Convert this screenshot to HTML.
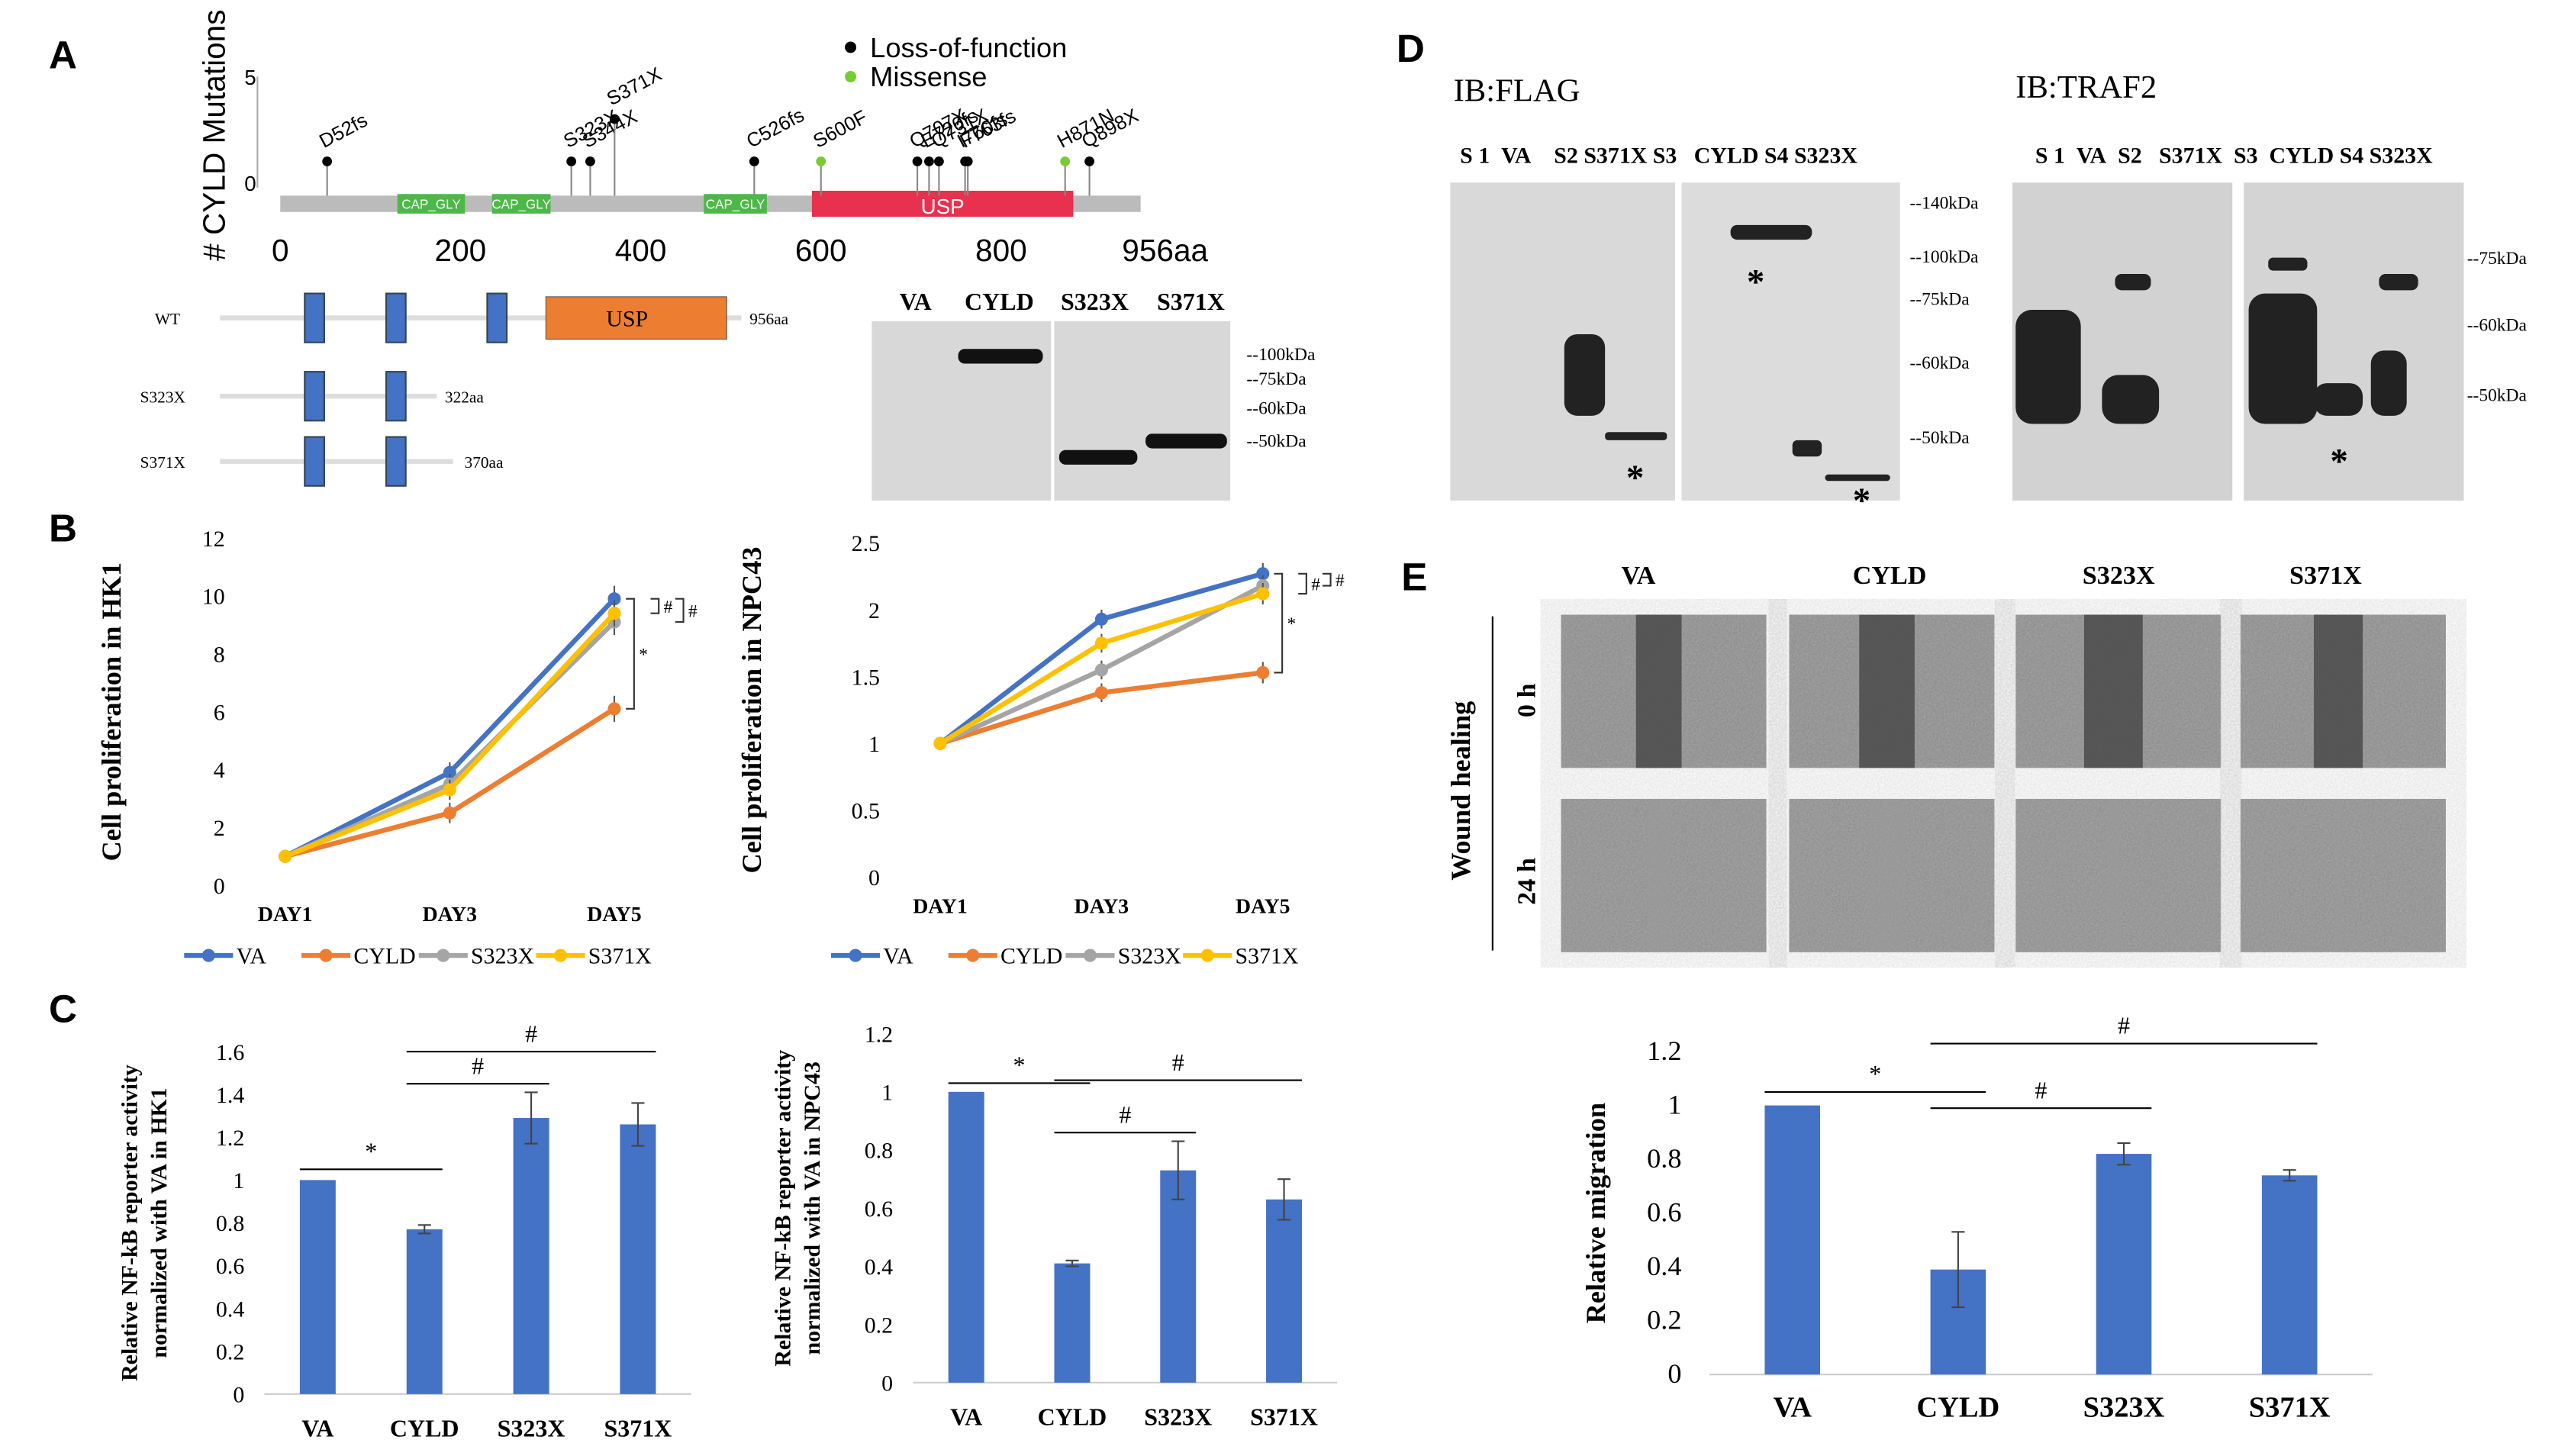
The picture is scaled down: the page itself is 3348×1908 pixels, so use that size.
<!DOCTYPE html>
<html><head><meta charset="utf-8"><style>
html,body{margin:0;padding:0;background:#fff;}
svg{display:block;}
text{font-family:"Liberation Serif",serif;}
.s{font-family:"Liberation Sans",sans-serif;}
</style></head><body>
<svg id="fig" width="3348" height="1908" viewBox="0 0 1568 893" preserveAspectRatio="none" xmlns="http://www.w3.org/2000/svg">
<defs>
<filter id="noise"><feTurbulence type="fractalNoise" baseFrequency="0.9" numOctaves="2"/><feColorMatrix values="0 0 0 0 0.55 0 0 0 0 0.55 0 0 0 0 0.55 0 0 0 0.5 0"/></filter>
</defs>
<g class="s" font-weight="bold" font-size="24">
<text x="30" y="42" class="s">A</text><text x="30" y="332" class="s">B</text><text x="30" y="627" class="s">C</text>
<text x="857" y="38" class="s">D</text><text x="860" y="362" class="s">E</text></g>

<!-- Panel A lollipop -->
<g class="s">
<text class="s" transform="translate(138,160) rotate(-90)" font-size="19">#&#160;CYLD Mutations</text>
<line x1="158" y1="47" x2="158" y2="115" stroke="#aaa"/>
<text class="s" x="150" y="52" font-size="13">5</text><text class="s" x="150" y="117" font-size="13">0</text>
<rect x="172" y="120" width="528" height="10" fill="#bbb"/>
<g id="domains"></g>
<g id="lolli"></g>
<g id="aticks" font-size="19"></g>
<circle cx="522" cy="29" r="3.5" fill="#000"/><text class="s" x="534" y="35" font-size="17">Loss-of-function</text>
<circle cx="522" cy="47" r="3.5" fill="#7c3"/><text class="s" x="534" y="53" font-size="17">Missense</text>
</g>

<!-- schematic -->
<g font-size="10">
<line x1="135" y1="195" x2="335" y2="195" stroke="#ddd" stroke-width="3"/><line x1="446" y1="195" x2="455" y2="195" stroke="#ddd" stroke-width="3"/>
<text x="95" y="199">WT</text><text x="460" y="199">956aa</text>
<rect x="335" y="182" width="111" height="26" fill="#ed7d31" stroke="#555" stroke-width="0.5"/><text x="372" y="200" font-size="14">USP</text>
<line x1="135" y1="243" x2="268" y2="243" stroke="#ddd" stroke-width="3"/><text x="86" y="247">S323X</text><text x="273" y="247">322aa</text>
<line x1="135" y1="283" x2="278" y2="283" stroke="#ddd" stroke-width="3"/><text x="86" y="287">S371X</text><text x="285" y="287">370aa</text>
<g fill="#4472c4" stroke="#345">
<rect x="187" y="180" width="12" height="30"/><rect x="237" y="180" width="12" height="30"/><rect x="299" y="180" width="12" height="30"/>
<rect x="187" y="228" width="12" height="30"/><rect x="237" y="228" width="12" height="30"/>
<rect x="187" y="268" width="12" height="30"/><rect x="237" y="268" width="12" height="30"/></g>
</g>

<!-- western blot A -->
<g font-size="15" font-weight="bold">
<text x="552" y="190">VA</text><text x="592" y="190">CYLD</text><text x="651" y="190">S323X</text><text x="710" y="190">S371X</text>
<rect x="535" y="197" width="110" height="110" fill="#d8d8d8"/><rect x="647" y="197" width="108" height="110" fill="#d8d8d8"/>
<rect x="588" y="214" width="52" height="9" rx="4" fill="#111"/>
<rect x="650" y="276" width="48" height="9" rx="4" fill="#111"/><rect x="703" y="266" width="50" height="9" rx="4" fill="#111"/>
<g font-weight="normal" font-size="11"><text x="765" y="221">--100kDa</text><text x="765" y="236">--75kDa</text><text x="765" y="254">--60kDa</text><text x="765" y="274">--50kDa</text></g>
</g>

<!-- Panel D -->
<g>
<text x="892" y="62" font-size="20">IB:FLAG</text><text x="1237" y="60" font-size="20">IB:TRAF2</text>
<g font-size="14" font-weight="bold"><text x="896" y="100">S 1&#160;&#160;VA&#160;&#160;&#160;&#160;S2&#160;S371X&#160;S3&#160;&#160;&#160;CYLD&#160;S4&#160;S323X</text>
<text x="1249" y="100">S 1&#160;&#160;VA&#160;&#160;S2&#160;&#160;&#160;S371X&#160;&#160;S3&#160;&#160;CYLD&#160;S4&#160;S323X</text></g>
<rect x="890" y="112" width="138" height="195" fill="#d9d9d9"/><rect x="1032" y="112" width="134" height="195" fill="#dcdcdc"/>
<rect x="1235" y="112" width="135" height="195" fill="#d2d2d2"/><rect x="1377" y="112" width="135" height="195" fill="#d4d4d4"/>
<g fill="#222"><rect x="960" y="205" width="25" height="50" rx="8"/><rect x="985" y="265" width="38" height="5" rx="2"/>
<rect x="1062" y="138" width="50" height="9" rx="4"/><rect x="1100" y="270" width="18" height="10" rx="3"/><rect x="1120" y="291" width="40" height="4" rx="2"/>
<rect x="1237" y="190" width="40" height="70" rx="10"/><rect x="1290" y="230" width="35" height="30" rx="10"/><rect x="1298" y="168" width="22" height="10" rx="4"/>
<rect x="1380" y="180" width="42" height="80" rx="10"/><rect x="1420" y="235" width="30" height="20" rx="8"/><rect x="1455" y="215" width="22" height="40" rx="8"/><rect x="1460" y="168" width="24" height="10" rx="4"/><rect x="1392" y="158" width="24" height="8" rx="3"/></g>
<g font-size="22" font-weight="bold"><text x="998" y="300">*</text><text x="1072" y="180">*</text><text x="1137" y="314">*</text><text x="1430" y="290">*</text></g>
<g font-size="11"><text x="1172" y="128">--140kDa</text><text x="1172" y="161">--100kDa</text><text x="1172" y="187">--75kDa</text><text x="1172" y="226">--60kDa</text><text x="1172" y="272">--50kDa</text>
<text x="1514" y="162">--75kDa</text><text x="1514" y="203">--60kDa</text><text x="1514" y="246">--50kDa</text></g>
</g>

<!-- Panel E images -->
<g>
<g font-size="16" font-weight="bold"><text x="995" y="358">VA</text><text x="1137" y="358">CYLD</text><text x="1278" y="358">S323X</text><text x="1405" y="358">S371X</text></g>
<text transform="translate(902,540) rotate(-90)" font-size="17" font-weight="bold">Wound healing</text>
<text transform="translate(942,440) rotate(-90)" font-size="16" font-weight="bold">0 h</text>
<text transform="translate(942,555) rotate(-90)" font-size="16" font-weight="bold">24 h</text>
<line x1="916" y1="378" x2="916" y2="583" stroke="#000"/>
<g id="wimgs"></g>
</g>

<g id="charts"></g>
</svg>
<script>
const NS="http://www.w3.org/2000/svg";
function el(tag,attrs,parent,txt){const e=document.createElementNS(NS,tag);for(const k in attrs)e.setAttribute(k,attrs[k]);if(txt!==undefined)e.textContent=txt;parent.appendChild(e);return e;}

// ---- Panel A data ----
const mutNames=["D52fs","S323X","S344X","S371X","C526fs","S600F","Q707X","E720fs","Q731X","F763fs","I760fs","H871N","Q898X"];
const mutPos=[52,323,344,371,526,600,707,720,731,763,760,871,898];
const mutCount=[1,1,1,3,1,1,1,1,1,1,1,1,1];
const mutMissense=[0,0,0,0,0,1,0,0,0,0,0,1,0];
const domainNames=["CAP_GLY","CAP_GLY","CAP_GLY","USP"];
const domainStart=[130,235,470,590];
const domainEnd=[205,300,540,880];
const aTicks=[0,200,400,600,800];
const ax=v=>172+v*0.553, ay=v=>112-v*13;
const dG=document.getElementById('domains');
domainNames.forEach((n,i)=>{const usp=n==="USP";
 const r=el('rect',{x:ax(domainStart[i]),y:usp?117:119,width:ax(domainEnd[i])-ax(domainStart[i]),height:usp?16:12,fill:usp?'#e8304f':'#4cb848'},dG);
 
 
 el('text',{x:(ax(domainStart[i])+ax(domainEnd[i]))/2,y:usp?131:128,'text-anchor':'middle',fill:'#fff','font-size':usp?13:8,class:'s'},dG,n);});
const lG=document.getElementById('lolli');
mutPos.forEach((p,i)=>{const x=ax(p),y=ay(mutCount[i]);
 el('line',{x1:x,y1:120,x2:x,y2:y,stroke:'#888','stroke-width':1},lG);
 const c=el('circle',{cx:x,cy:y,r:3,fill:mutMissense[i]?'#7c3':'#000'},lG);
 
 
 el('text',{transform:`translate(${x-2},${y-8}) rotate(-28)`,'font-size':12,class:'s'},lG,mutNames[i]);});
const tG=document.getElementById('aticks');
aTicks.forEach(t=>el('text',{x:ax(t),y:160,'text-anchor':'middle',class:'s'},tG,t));
el('text',{x:715,y:160,'text-anchor':'middle',class:'s'},tG,"956aa");

// wound images
const wG=document.getElementById('wimgs');
[958,1098,1237,1375].forEach((x,i)=>{[377,490].forEach((y,j)=>{
 el('rect',{x:x,y:y,width:126,height:94,fill:j?'#8a8a8a':'#888'},wG);
 el('rect',{x:x,y:y,width:126,height:94,filter:'url(#noise)'},wG);
 const gw=j?[14,22,8,4][i]:[28,34,36,30][i];
 el('rect',{x:x+60-gw/2,y:y,width:gw,height:94,fill:j?'#999':'#4a4a4a',opacity:j?0.5:0.85},wG);});});

// ---- Chart data ----
const days=["DAY1","DAY3","DAY5"];
const seriesNames=["VA","CYLD","S323X","S371X"];
const seriesColors=["#4472c4","#ed7d31","#a5a5a5","#ffc000"];
const hk1VA=[1.0,3.9,9.9], hk1CYLD=[1.0,2.5,6.1], hk1S323X=[1.0,3.5,9.1], hk1S371X=[1.0,3.3,9.4];
const hk1Err=[0.1,0.35,0.45];
const npcVA=[1.0,1.93,2.27], npcCYLD=[1.0,1.38,1.53], npcS323X=[1.0,1.55,2.18], npcS371X=[1.0,1.75,2.12];
const npcErr=[0.03,0.07,0.08];
const hk1Ticks=[0,2,4,6,8,10,12];
const npcTicks=[0,0.5,1,1.5,2,2.5];
const barCats=["VA","CYLD","S323X","S371X"];
const nfHK1=[1.0,0.77,1.29,1.26], nfHK1Err=[0,0.02,0.12,0.1];
const nfNPC=[1.0,0.41,0.73,0.63], nfNPCErr=[0,0.01,0.1,0.07];
const migr=[1.0,0.39,0.82,0.74], migrErr=[0,0.14,0.04,0.02];
const barTicks1=[0,0.2,0.4,0.6,0.8,1,1.2,1.4,1.6];
const barTicks2=[0,0.2,0.4,0.6,0.8,1,1.2];

const cG=document.getElementById('charts');
function lineChart(name,cfg){
 const g=el('g',{},cG);
 const yS=v=>cfg.y0-(v-0)/cfg.ymax*(cfg.y0-cfg.y1);
 const xS=i=>cfg.xs+i*cfg.dx;
 cfg.ticks.forEach(t=>el('text',{x:cfg.tx,y:yS(t)+5,'text-anchor':'end','font-size':14},g,t));
 el('text',{transform:`translate(${cfg.lx},${(cfg.y0+cfg.y1)/2}) rotate(-90)`,'text-anchor':'middle','font-size':17,'font-weight':'bold'},g,cfg.title);
 days.forEach((d,i)=>el('text',{x:xS(i),y:cfg.y0+22,'text-anchor':'middle','font-size':13,'font-weight':'bold'},g,d));
 cfg.series.forEach((s,k)=>{
  const pts=s.map((v,i)=>xS(i)+','+yS(v)).join(' ');
  const pl=el('polyline',{points:pts,fill:'none',stroke:seriesColors[k],'stroke-width':3},g);
  
  
  s.forEach((v,i)=>{el('line',{x1:xS(i),x2:xS(i),y1:yS(v-cfg.err[i]),y2:yS(v+cfg.err[i]),stroke:'#555'},g);
   el('circle',{cx:xS(i),cy:yS(v),r:4,fill:seriesColors[k]},g);});});
 // significance brackets
 const xb=xS(2)+cfg.dx*0.12;
 [[0,1,'*'],[0,3,'#'],[0,2,'#']].forEach((b,j)=>{const x=xb+j*cfg.dx*0.15;const ya=yS(cfg.series[b[0]][2]),yb=yS(cfg.series[b[1]][2]);
  el('path',{d:`M${x-5},${ya} H${x} V${yb} H${x-5}`,fill:'none',stroke:'#333'},g);
  el('text',{x:x+3,y:(ya+yb)/2+4,'font-size':11},g,b[2]);});
 const lg=el('g',{},g);
 seriesNames.forEach((n,k)=>{const x=cfg.legx+k*cfg.legdx;
  el('line',{x1:x,x2:x+30,y1:cfg.legy,y2:cfg.legy,stroke:seriesColors[k],'stroke-width':3},lg);
  el('circle',{cx:x+15,cy:cfg.legy,r:4,fill:seriesColors[k]},lg);
  el('text',{x:x+32,y:cfg.legy+5,'font-size':14},lg,n);});
}
lineChart('chart-hk1-proliferation',{y0:543,y1:330,ymax:12,xs:175,dx:101,tx:138,lx:74,ticks:hk1Ticks,title:'Cell proliferation in HK1',series:[hk1VA,hk1CYLD,hk1S323X,hk1S371X],err:hk1Err,legx:113,legdx:72,legy:586});
lineChart('chart-npc43-proliferation',{y0:538,y1:333,ymax:2.5,xs:577,dx:99,tx:540,lx:467,ticks:npcTicks,title:'Cell proliferation in NPC43',series:[npcVA,npcCYLD,npcS323X,npcS371X],err:npcErr,legx:510,legdx:72,legy:586});

function barChart(name,cfg){
 const g=el('g',{},cG);
 const yS=v=>cfg.y0-v/cfg.ymax*(cfg.y0-cfg.y1);
 const xS=i=>cfg.xs+i*cfg.dx;
 cfg.ticks.forEach(t=>el('text',{x:cfg.tx,y:yS(t)+5,'text-anchor':'end','font-size':cfg.fs},g,t));
 el('line',{x1:cfg.xs-cfg.dx/2,x2:xS(3)+cfg.dx/2,y1:cfg.y0,y2:cfg.y0,stroke:'#ccc'},g);
 cfg.title.forEach((t,j)=>el('text',{transform:`translate(${cfg.lx+j*18},${(cfg.y0+cfg.y1)/2}) rotate(-90)`,'text-anchor':'middle','font-size':cfg.tfs,'font-weight':'bold'},g,t));
 cfg.vals.forEach((v,i)=>{
  const r=el('rect',{x:xS(i)-cfg.bw/2,y:yS(v),width:cfg.bw,height:cfg.y0-yS(v),fill:'#4472c4'},g);
  
  
  if(cfg.err[i]>0){el('path',{d:`M${xS(i)},${yS(v-cfg.err[i])}V${yS(v+cfg.err[i])}M${xS(i)-4},${yS(v-cfg.err[i])}h8M${xS(i)-4},${yS(v+cfg.err[i])}h8`,stroke:'#444',fill:'none'},g);}
  el('text',{x:xS(i),y:cfg.y0+26,'text-anchor':'middle','font-size':cfg.cfs,'font-weight':'bold'},g,barCats[i]);});
 cfg.sig.forEach(s=>{const y=yS(s[2]);
  el('line',{x1:xS(s[0])-cfg.bw/2,x2:xS(s[1])+cfg.bw/2,y1:y,y2:y,stroke:'#000'},g);
  el('text',{x:(xS(s[0])+xS(s[1]))/2,y:y-6,'text-anchor':'middle','font-size':15},g,s[3]);});
}
barChart('chart-nfkb-hk1',{y0:855,y1:645,ymax:1.6,xs:195,dx:65.5,bw:22,tx:150,lx:84,fs:14,tfs:14,cfs:15,ticks:barTicks1,vals:nfHK1,err:nfHK1Err,title:['Relative NF-kB reporter activity','normalized with VA in HK1'],sig:[[0,1,1.05,'*'],[1,2,1.45,'#'],[1,3,1.6,'#']]});
barChart('chart-nfkb-npc43',{y0:848,y1:634,ymax:1.2,xs:593,dx:65,bw:22,tx:548,lx:485,fs:14,tfs:14,cfs:15,ticks:barTicks2,vals:nfNPC,err:nfNPCErr,title:['Relative NF-kB reporter activity','normalized with VA in NPC43'],sig:[[0,1,1.03,'*'],[1,3,1.04,'#'],[1,2,0.86,'#']]});
barChart('chart-relative-migration',{y0:843,y1:645,ymax:1.2,xs:1100,dx:101.7,bw:34,tx:1032,lx:985,fs:17,tfs:17,cfs:18,ticks:barTicks2,vals:migr,err:migrErr,title:['Relative migration'],sig:[[0,1,1.05,'*'],[1,2,0.99,'#'],[1,3,1.23,'#']]});
</script>
</body></html>
